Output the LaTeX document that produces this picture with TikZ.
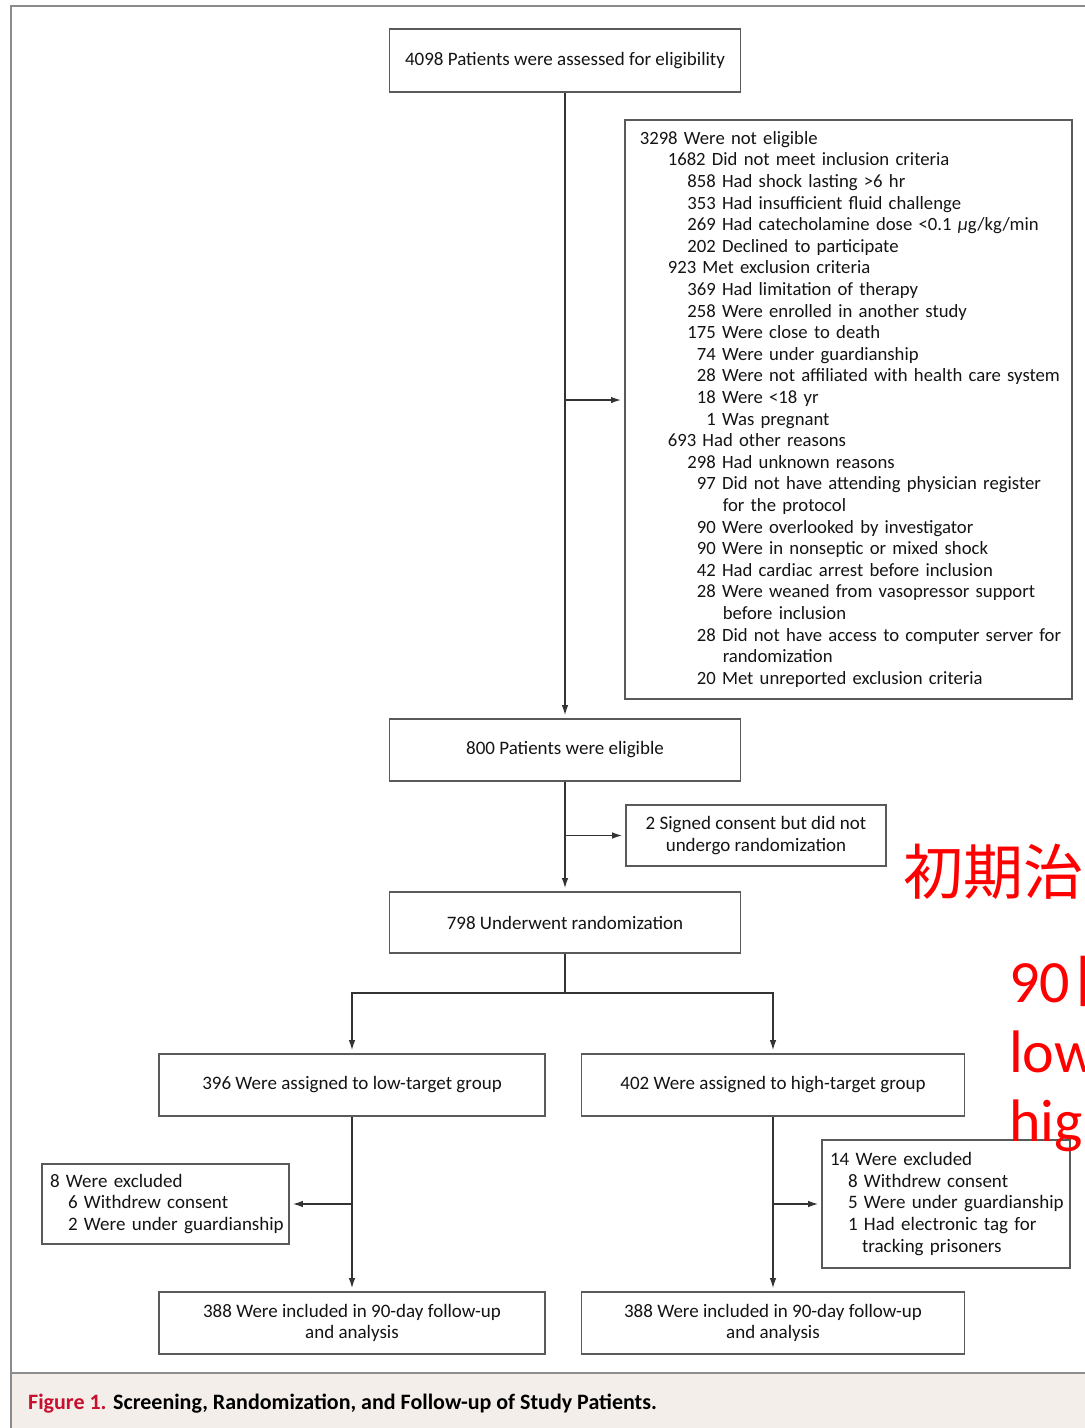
\documentclass[tikz,border=0pt]{standalone}
\usepackage{fontspec}
\setmainfont{Carlito}
\newfontfamily\cjkfont{Noto Sans CJK JP}
\usetikzlibrary{arrows.meta}
\definecolor{boxgray}{HTML}{5A5A5A}
\definecolor{linegray}{HTML}{333333}
\definecolor{framegray}{HTML}{8C8C8C}
\definecolor{capbg}{HTML}{F3EEEA}
\definecolor{figred}{HTML}{C8102E}
\definecolor{txt}{HTML}{141414}
\newcommand\La[1]{\mbox{#1}}
\newcommand\Lb[1]{\mbox{\hspace*{28pt}#1}}
\newcommand\Lc[2]{\mbox{\hspace*{47pt}\makebox[29pt][r]{#1}\ #2}}
\newcommand\Ld[1]{\mbox{\hspace*{83pt}#1}}
\newcommand\Li[2]{\mbox{\hspace*{#1}#2}}
\begin{document}
\begin{tikzpicture}[x=1pt,y=-1pt,
  font=\fontsize{19}{21.6}\selectfont,
  box/.style={draw=boxgray, line width=1.6pt, fill=white, minimum height=62pt,
    inner sep=0pt, align=center, text=txt},
  conn/.style={draw=linegray, line width=1.4pt},
  arr/.style={conn, -{Latex[length=10pt,width=6.5pt]}, shorten >=3pt},
  rednote/.style={anchor=base west, inner sep=0pt, text=red, font=\fontsize{60}{70}\selectfont}]
\useasboundingbox (0,0) rectangle (1085,1428);
\clip (0,0) rectangle (1085,1428);
\fill[white] (0,0) rectangle (1085,1428);
% frame and caption band
\fill[capbg] (12,1374) rectangle (1085,1428);
\draw[framegray, line width=1.6pt] (12,1373) -- (1085,1373);
\draw[framegray, line width=2pt] (11,1428) -- (11,6) -- (1085,6);
\node[anchor=base west, inner sep=0pt, font=\fontsize{22}{24}\selectfont\bfseries] (caption) at (28,1409)
  {\textcolor{figred}{Figure 1.} Screening, Randomization, and Follow-up of Study Patients.};
% boxes
\node[box, minimum width=351pt, minimum height=63pt] (assess) at (565,60.5) {4098 Patients were assessed for eligibility};
\node[box, anchor=north west, minimum width=447pt, minimum height=579pt, text width=417pt,
  align=left, inner xsep=15pt, font=\fontsize{18.7}{21.6}\selectfont] (nelig) at (624,119) {%
\La{3298 Were not eligible}\\
\Lb{1682 Did not meet inclusion criteria}\\
\Lc{858}{Had shock lasting >6 hr}\\
\Lc{353}{Had insufficient fluid challenge}\\
\Lc{269}{Had catecholamine dose <0.1 {\itshape μ}g/kg/min}\\
\Lc{202}{Declined to participate}\\
\Lb{923 Met exclusion criteria}\\
\Lc{369}{Had limitation of therapy}\\
\Lc{258}{Were enrolled in another study}\\
\Lc{175}{Were close to death}\\
\Lc{74}{Were under guardianship}\\
\Lc{28}{Were not affiliated with health care system}\\
\Lc{18}{Were <18 yr}\\
\Lc{1}{Was pregnant}\\
\Lb{693 Had other reasons}\\
\Lc{298}{Had unknown reasons}\\
\Lc{97}{Did not have attending physician register}\\
\Ld{for the protocol}\\
\Lc{90}{Were overlooked by investigator}\\
\Lc{90}{Were in nonseptic or mixed shock}\\
\Lc{42}{Had cardiac arrest before inclusion}\\
\Lc{28}{Were weaned from vasopressor support}\\
\Ld{before inclusion}\\
\Lc{28}{Did not have access to computer server for}\\
\Ld{randomization}\\
\Lc{20}{Met unreported exclusion criteria}};
\node[box, minimum width=351pt] (elig) at (565,750) {800 Patients were eligible};
\node[box, minimum width=260pt, minimum height=61pt] (consent) at (756,835.5) {2 Signed consent but did not\\undergo randomization};
\node[box, minimum width=351pt, minimum height=61pt] (rand) at (565,922.5) {798 Underwent randomization};
\node[box, minimum width=386pt] (low) at (352,1085) {396 Were assigned to low-target group};
\node[box, minimum width=383pt] (high) at (773,1085) {402 Were assigned to high-target group};
\node[box, minimum width=247pt, minimum height=80pt, text width=231pt, align=left, inner xsep=8pt] (exl) at (165.5,1204)
  {\La{8 Were excluded}\\\Li{18pt}{6 Withdrew consent}\\\Li{18pt}{2 Were under guardianship}};
\node[box, minimum width=248pt, minimum height=128pt, text width=232pt, align=left, inner xsep=8pt] (exr) at (946,1204)
  {\La{14 Were excluded}\\\Li{18pt}{8 Withdrew consent}\\\Li{18pt}{5 Were under guardianship}\\\Li{18pt}{1 Had electronic tag for}\\\Li{32pt}{tracking prisoners}};
\node[box, minimum width=386pt] (fupl) at (352,1323) {388 Were included in 90-day follow-up\\and analysis};
\node[box, minimum width=383pt] (fupr) at (773,1323) {388 Were included in 90-day follow-up\\and analysis};
% connectors
\coordinate (j1) at (565,400);
\coordinate (split) at (565,993);
\draw[arr] (assess.south) -- (elig.north);
\draw[arr] (j1) -- (j1 -| nelig.west);
\draw[arr] (elig.south) -- (rand.north);
\draw[arr] (elig.south |- consent.west) -- (consent.west);
\draw[conn] (rand.south) -- (split);
\draw[arr] (split) -| (low.north);
\draw[arr] (split) -| (high.north);
\draw[arr] (low.south) -- (fupl.north);
\draw[arr] (high.south) -- (fupr.north);
\draw[arr] (low.south |- exl.east) -- (exl.east);
\draw[arr] (high.south |- exr.west) -- (exr.west);
% red annotations
\node[anchor=base west, inner sep=0pt, text=red, font=\cjkfont\fontsize{60}{72}\selectfont] (jp) at (903,894) {初期治療};
\node[rednote] (rn1) at (1009,1002) {90{\cjkfont 日}};
\node[rednote] (rn2) at (1009,1072) {low};
\node[rednote] (rn3) at (1009,1141) {high};
\end{tikzpicture}
\end{document}
